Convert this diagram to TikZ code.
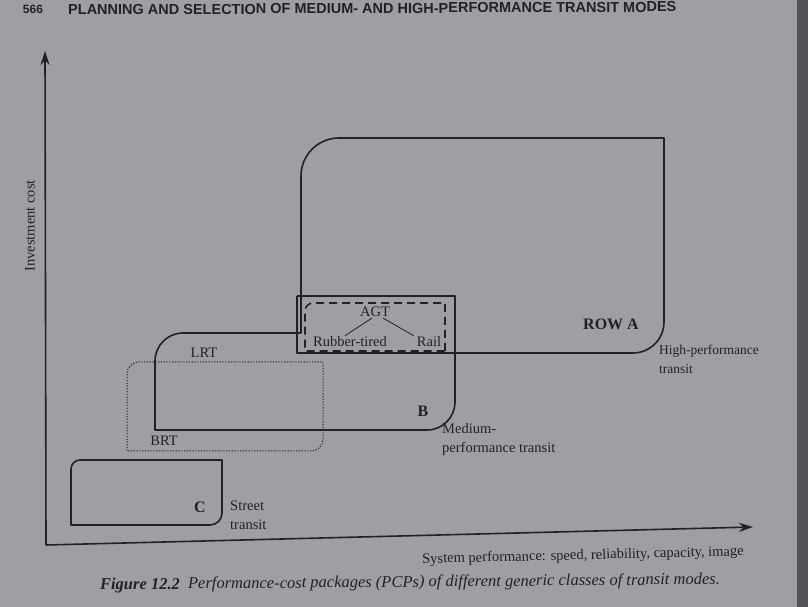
\documentclass[tikz,border=0pt]{standalone}
\usepackage{fontspec}
\setmainfont{Liberation Serif}
\newfontfamily\headfont{Liberation Sans}
\usetikzlibrary{arrows.meta}
\definecolor{page}{RGB}{158,159,162}
\definecolor{ink}{RGB}{34,34,38}
\tikzset{
  pcp/.style={draw=ink, line width=1.6pt},
  agtbox/.style={draw=ink, line width=1.6pt, dash pattern=on 8pt off 5pt},
  brtbox/.style={draw=ink, line width=1pt, dash pattern=on 1.2pt off 1.6pt},
  lbl/.style={text=ink, font=\fontsize{14.5}{19}\selectfont, inner sep=1pt},
  tag/.style={text=ink, font=\fontsize{16}{18}\selectfont\bfseries, inner sep=1pt},
  axis/.style={draw=ink, line width=1.6pt, -{Stealth[length=14pt, width=9pt]}}
}
\begin{document}
\begin{tikzpicture}[x=1pt, y=1pt, line join=round]
  \useasboundingbox (0,0) rectangle (808,607);
  \fill[page] (0,0) rectangle (808,607);
  \fill[ink!60!page] (797,0) rectangle (808,607);
  % page header
  \node[text=ink, font=\headfont\bfseries\fontsize{12}{14}\selectfont, inner sep=0pt] (pageno) at (33,598) {566};
  \node[text=ink, font=\headfont\bfseries\fontsize{14.5}{16}\selectfont, anchor=west, rotate=0.3, inner sep=0pt] (header) at (68,597) {PLANNING AND SELECTION OF MEDIUM- AND HIGH-PERFORMANCE TRANSIT MODES};
  % axes
  \coordinate (O) at (46,62);
  \coordinate (ytip) at (45,556);
  \coordinate (xtip) at (753,80);
  \draw[axis] (O) -- (ytip);
  \draw[axis] (O) -- (xtip);
  \node[lbl, rotate=90] (ylabel) at (30,381) {Investment cost};
  \node[lbl, rotate=1.4] (xlabel) at (583,51) {System performance: speed, reliability, capacity, image};
  % A: high-performance
  \draw[pcp] (301,274) -- (301,431) arc[start angle=180, end angle=90, radius=38]
    -- (664,469) -- (664,285) arc[start angle=0, end angle=-90, radius=31]
    -- (297,254) -- (297,311);
  % B: medium-performance
  \draw[pcp] (297,311) -- (455,311) -- (455,205) arc[start angle=0, end angle=-90, radius=28]
    -- (155,177) -- (155,246) arc[start angle=180, end angle=90, radius=28] -- (301,274);
  % AGT
  \draw[agtbox] (445,256) -- (445,304) -- (313,304) arc[start angle=90, end angle=180, radius=8]
    -- (305,256) -- cycle;
  % BRT
  \draw[brtbox] (127,156) -- (127,233) arc[start angle=180, end angle=90, radius=12]
    -- (323,245) -- (323,168) arc[start angle=0, end angle=-90, radius=12] -- cycle;
  % C: street
  \draw[pcp] (71,82) -- (71,138) arc[start angle=180, end angle=90, radius=9]
    -- (222,147) -- (222,94) arc[start angle=0, end angle=-90, radius=12] -- cycle;
  % labels
  \node[lbl] (agt) at (375,295) {AGT};
  \node[lbl] (rubber) at (350,265) {Rubber-tired};
  \node[lbl] (rail) at (429,265) {Rail};
  \draw[ink, line width=0.8pt] ([xshift=-3pt]agt.south) -- ([xshift=-5pt]rubber.north);
  \draw[ink, line width=0.8pt] ([xshift=8pt]agt.south) -- ([xshift=-2pt]rail.north west);
  \node[lbl] (lrt) at (204,254) {LRT};
  \node[lbl] (brt) at (164,166) {BRT};
  \node[tag] (rowa) at (611,283) {ROW A};
  \node[tag] (b) at (423,196) {B};
  \node[tag] (c) at (200,100) {C};
  \node[lbl, anchor=north west, align=left, font=\fontsize{13.5}{19}\selectfont] (high) at (658,263) {High-performance\\transit};
  \node[lbl, anchor=north west, align=left] (medium) at (441,185) {Medium-\\performance transit};
  \node[lbl, anchor=north west, align=left] (street) at (229,107) {Street\\transit};
  % caption
  \node[text=ink, font=\fontsize{16.5}{19}\selectfont, rotate=0.5, inner sep=0pt] (caption) at (410,24)
    {\textbf{\textit{Figure 12.2}}\enspace\textit{Performance-cost packages (PCPs) of different generic classes of transit modes.}};
\end{tikzpicture}
\end{document}
